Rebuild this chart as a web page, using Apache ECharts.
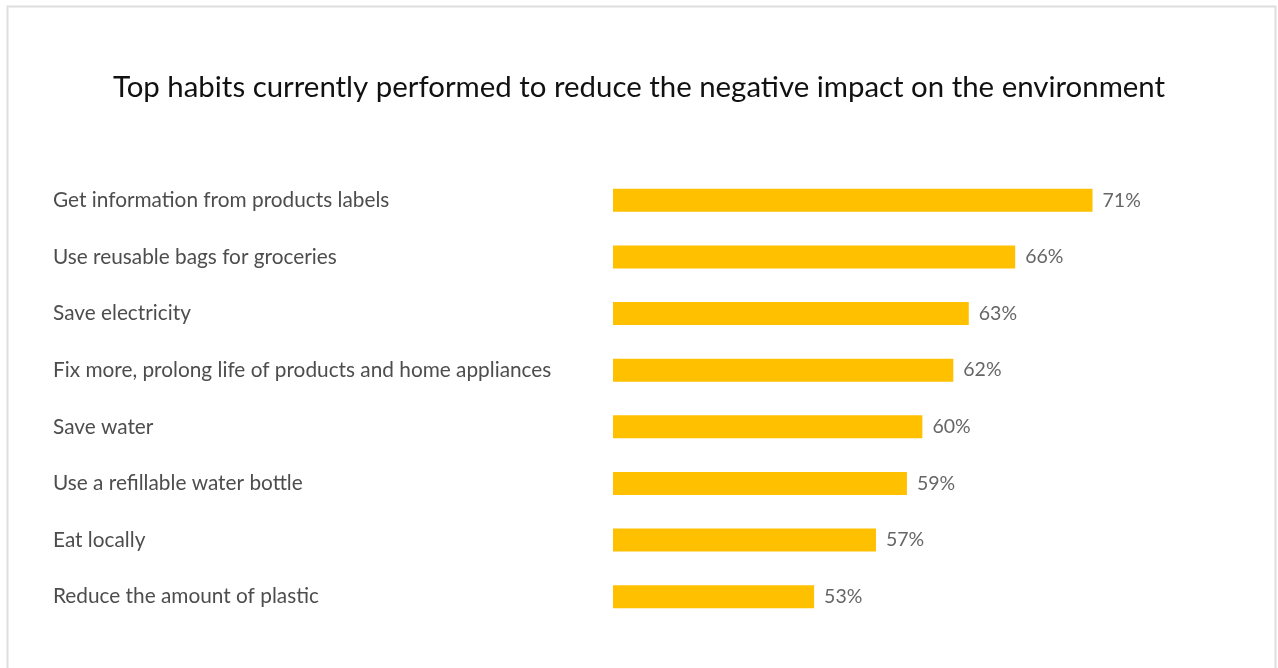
<!DOCTYPE html>
<html>
<head>
<meta charset="utf-8">
<title>Top habits to reduce environmental impact</title>
<script src="https://cdn.jsdelivr.net/npm/echarts@6/dist/echarts.min.js"></script>
<style>
  html, body { margin: 0; padding: 0; background: #ffffff; }
  #chart { width: 1278px; height: 668px; }
</style>
</head>
<body>
<div id="chart"></div>
<script>
// Habits, listed top to bottom
const habits = [
  'Get information from products labels',
  'Use reusable bags for groceries',
  'Save electricity',
  'Fix more, prolong life of products and home appliances',
  'Save water',
  'Use a refillable water bottle',
  'Eat locally',
  'Reduce the amount of plastic'
];
// Share of respondents (%)
const shares = [71, 66, 63, 62, 60, 59, 57, 53];

const titleText = 'Top habits currently performed to reduce the negative impact on the environment';

const chart = echarts.init(document.getElementById('chart'), null, { renderer: 'canvas' });

chart.setOption({
  backgroundColor: '#ffffff',
  animation: false,
  graphic: [{
    type: 'rect',
    silent: true,
    shape: { x: 7.5, y: 6.5, width: 1268, height: 700 },
    style: { fill: 'none', stroke: '#dedede', lineWidth: 2 }
  }],
  title: {
    text: titleText,
    left: 'center',
    top: 68,
    textStyle: {
      fontFamily: 'Lato',
      fontSize: 29.4,
      fontWeight: 'normal',
      color: '#111111'
    }
  },
  grid: {
    left: 613,
    right: 170,
    top: 172,
    bottom: 43
  },
  xAxis: {
    type: 'value',
    min: 40,
    max: 72,
    show: false
  },
  yAxis: {
    type: 'category',
    data: habits,
    inverse: true,
    axisLine: { show: false },
    axisTick: { show: false },
    splitLine: { show: false },
    axisLabel: {
      align: 'left',
      margin: 560,
      fontFamily: 'Lato',
      fontSize: 20.8,
      color: '#4d4d4d'
    }
  },
  series: [{
    type: 'bar',
    data: shares,
    barWidth: 23,
    itemStyle: { color: '#FFC000' },
    label: {
      show: true,
      position: 'right',
      distance: 10,
      formatter: '{c}%',
      fontFamily: 'Lato',
      fontSize: 19.5,
      color: '#666666'
    }
  }]
});
</script>
</body>
</html>
